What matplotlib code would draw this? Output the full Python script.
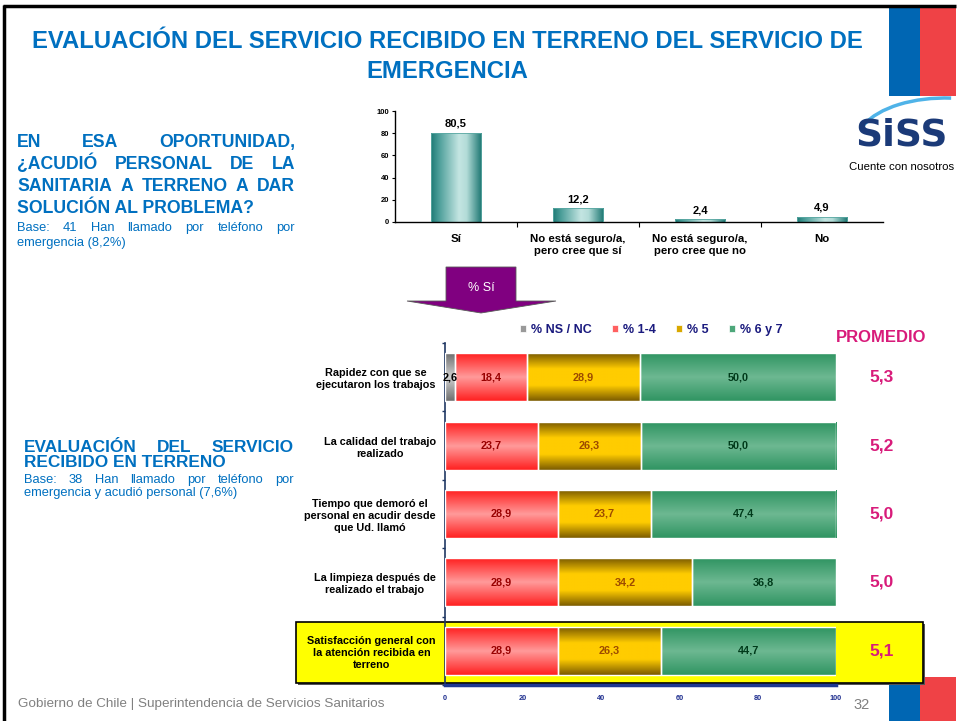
import matplotlib
matplotlib.use('Agg')
import matplotlib.pyplot as plt
import numpy as np
from matplotlib.patches import Rectangle, Polygon, Arc, Patch
from matplotlib.colors import LinearSegmentedColormap
import matplotlib.transforms as mtransforms

plt.rcParams['font.family'] = ['Liberation Sans', 'DejaVu Sans']

# ---------------- DATA ----------------
q_categories = ["Sí", "No está seguro/a,\npero cree que sí",
                "No está seguro/a,\npero cree que no", "No"]
q_values = [80.5, 12.2, 2.4, 4.9]
q_yticks = [0, 20, 40, 60, 80, 100]

eval_items = ["Rapidez con que se\nejecutaron los trabajos",
              "La calidad del trabajo\nrealizado",
              "Tiempo que demoró el\npersonal en acudir desde\nque Ud. llamó",
              "La limpieza después de\nrealizado el trabajo",
              "Satisfacción general con\nla atención recibida en\nterreno"]
series_names = ["% NS / NC", "% 1-4", "% 5", "% 6 y 7"]
ns_nc = [2.6, 0, 0, 0, 0]
p_1_4 = [18.4, 23.7, 28.9, 28.9, 28.9]
p_5 = [28.9, 26.3, 23.7, 34.2, 26.3]
p_6_7 = [50.0, 50.0, 47.4, 36.8, 44.7]
promedio = [5.3, 5.2, 5.0, 5.0, 5.1]
eval_xticks = [0, 20, 40, 60, 80, 100]

# ---------------- STYLE ----------------
W, H, DPI = 963, 721, 100
BLUE = '#0070C0'
NAVY = '#1A1A7E'
MAGENTA = '#D81B7A'

def fmt(v):
    return f"{v:.1f}".replace('.', ',')

fig = plt.figure(figsize=(W / DPI, H / DPI), dpi=DPI)
fig.patch.set_facecolor('white')

bg = fig.add_axes([0, 0, 1, 1])
bg.set_xlim(0, W)
bg.set_ylim(H, 0)
bg.axis('off')

def ax_px(l, t, r, b):
    a = fig.add_axes([l / W, 1 - b / H, (r - l) / W, (b - t) / H])
    a.set_facecolor('none')
    return a

def grad_fill(ax, patch, stops, horizontal, zorder=2):
    x0, y0 = patch.get_x(), patch.get_y()
    w, h = patch.get_width(), patch.get_height()
    cmap = LinearSegmentedColormap.from_list('g', stops)
    g = np.linspace(0, 1, 256)
    img = g[None, :] if horizontal else g[:, None]
    im = ax.imshow(img, cmap=cmap, extent=(x0, x0 + w, y0, y0 + h),
                   aspect='auto', origin='lower', zorder=zorder,
                   interpolation='bilinear')
    im.set_clip_path(patch)

renderer = fig.canvas.get_renderer()

def justify(text, x0, x1, y, justified=True, **kw):
    words = text.split()
    if not justified or len(words) == 1:
        bg.text(x0, y, text, ha='left', va='baseline', **kw)
        return
    ts = [bg.text(x0, y, w, ha='left', va='baseline', **kw) for w in words]
    widths = [t.get_window_extent(renderer).width for t in ts]
    gap = (x1 - x0 - sum(widths)) / (len(words) - 1)
    x = x0
    for t, wd in zip(ts, widths):
        t.set_x(x)
        x += wd + gap

# ---------------- DECORATION ----------------
bg.plot([3, 956], [6, 6], color='black', lw=2.5, solid_capstyle='butt')
bg.plot([4, 4], [5, 721], color='black', lw=2.5, solid_capstyle='butt')
bg.add_patch(Rectangle((889, 7), 31, 89, color='#0066B3', lw=0))
bg.add_patch(Rectangle((920, 7), 36, 89, color='#EF4246', lw=0))
bg.add_patch(Rectangle((889, 677), 31, 44, color='#0066B3', lw=0))
bg.add_patch(Rectangle((920, 677), 36, 44, color='#EF4246', lw=0))

# logo
bg.add_patch(Arc((945, 142), 176, 88, theta1=192, theta2=278,
                 color='#4FB3E8', lw=2.5))
bg.text(901, 145, "SiSS", ha='center', va='baseline', fontsize=27,
        fontweight='bold', color='#1B3A78', family='DejaVu Sans')
bg.text(902, 170, "Cuente con nosotros", ha='center', va='baseline',
        fontsize=8.2, color='black')

# title
bg.text(447, 48, "EVALUACIÓN DEL SERVICIO RECIBIDO EN TERRENO DEL SERVICIO DE",
        ha='center', va='baseline', fontsize=17.2, fontweight='bold', color=BLUE)
bg.text(447, 78, "EMERGENCIA", ha='center', va='baseline', fontsize=17.2,
        fontweight='bold', color=BLUE)

# left block 1
b1 = dict(fontsize=12.7, fontweight='bold', color=BLUE)
justify("EN ESA OPORTUNIDAD,", 17, 295, 147, **b1)
justify("¿ACUDIÓ PERSONAL DE LA", 17, 295, 169, **b1)
justify("SANITARIA A TERRENO A DAR", 17, 295, 191, **b1)
justify("SOLUCIÓN AL PROBLEMA?", 17, 295, 213, justified=False, **b1)
s1 = dict(fontsize=9.3, color=BLUE)
justify("Base: 41 Han llamado por teléfono por", 17, 295, 231, **s1)
justify("emergencia (8,2%)", 17, 295, 246, justified=False, **s1)

# left block 2
b2 = dict(fontsize=12.4, fontweight='bold', color=BLUE)
justify("EVALUACIÓN DEL SERVICIO", 24, 294, 452, **b2)
justify("RECIBIDO EN TERRENO", 24, 294, 467, justified=False, **b2)
s2 = dict(fontsize=9.3, color=BLUE)
justify("Base: 38 Han llamado por teléfono por", 24, 294, 483, **s2)
justify("emergencia y acudió personal (7,6%)", 24, 294, 496, justified=False, **s2)

# footer
bg.text(18, 707, "Gobierno de Chile | Superintendencia de Servicios Sanitarios",
        ha='left', va='baseline', fontsize=9.7, color='#808080')
bg.text(862, 709, "32", ha='center', va='baseline', fontsize=10.5, color='#808080')

# arrow
bg.add_patch(Polygon([(446, 267), (516, 267), (516, 301), (556, 301),
                      (481, 313), (407, 301), (446, 301)], closed=True,
                     facecolor='#800080', edgecolor='#5A5A5A', lw=0.6))
bg.text(481, 288, "% Sí", ha='center', va='center', fontsize=9, color='white')

# highlight box
bg.add_patch(Rectangle((298, 624), 627, 61, facecolor='#555555', lw=0))
bg.add_patch(Rectangle((296, 622), 627, 61, facecolor='#FFFF00',
                       edgecolor='black', lw=1.2))

# ---------------- TOP BAR CHART ----------------
ax1 = ax_px(395, 111, 883, 222)
xs = np.arange(len(q_values))
bars = ax1.bar(xs, q_values, width=0.41, facecolor='none',
               edgecolor='#5AA8A3', lw=0.6, zorder=3)
teal = [(0, '#1D7A75'), (0.15, '#4A9D98'), (0.55, '#C4E5E2'),
        (0.7, '#B3DCD8'), (1, '#1B7570')]
for b in bars:
    grad_fill(ax1, b, teal, horizontal=True, zorder=2)
for x, v in zip(xs, q_values):
    ax1.annotate(fmt(v), (x, v), xytext=(0, 3), textcoords='offset points',
                 ha='center', va='bottom', fontsize=8, fontweight='bold')
ax1.set_xlim(-0.5, len(q_values) - 0.5)
ax1.set_ylim(0, 100)
ax1.set_yticks(q_yticks)
ax1.set_yticklabels([str(t) for t in q_yticks], fontsize=5.5, fontweight='bold')
ax1.set_xticks(xs)
ax1.set_xticklabels(q_categories, fontsize=8.2, fontweight='bold')
ax1.set_xticks(xs[:-1] + 0.5, minor=True)
ax1.tick_params(axis='x', which='major', length=0, pad=8.5)
ax1.tick_params(axis='x', which='minor', length=3.5, width=0.8, direction='out')
ax1.tick_params(axis='y', length=2.5, width=0.8, pad=1.5)
for s in ['top', 'right']:
    ax1.spines[s].set_visible(False)
for s in ['left', 'bottom']:
    ax1.spines[s].set_linewidth(1.0)
for t in ax1.get_xticklabels():
    t.set_multialignment('center')
    t.set_linespacing(1.25)

# ---------------- STACKED BAR CHART ----------------
ax2 = ax_px(445, 343, 836, 685)
ys = np.arange(len(eval_items))
series = [ns_nc, p_1_4, p_5, p_6_7]
grads = [
    [(0, '#6E6E6E'), (0.5, '#D0D0D0'), (1, '#6E6E6E')],
    [(0, '#FF1F1F'), (0.5, '#FF9A9A'), (1, '#FF1F1F')],
    [(0, '#7A5A00'), (0.33, '#FFCC00'), (0.67, '#FFCC00'), (1, '#7A5A00')],
    [(0, '#2F9462'), (0.5, '#6DB892'), (1, '#2F9462')],
]
txt_colors = ['black', '#990000', '#9C4A00', '#003A1A']
legend_colors = ['#999999', '#FF6060', '#D9A800', '#4DA77A']
left = np.zeros(len(eval_items))
for vals, gstops, tc in zip(series, grads, txt_colors):
    vals = np.array(vals, dtype=float)
    for y, v, l in zip(ys, vals, left):
        if v <= 0:
            continue
        b = ax2.barh(y, v, left=l, height=0.70, facecolor='none',
                     edgecolor='white', lw=1.0, zorder=3)[0]
        grad_fill(ax2, b, gstops, horizontal=False, zorder=2)
        ax2.text(l + v / 2, y, fmt(v), ha='center', va='center',
                 fontsize=7.8, fontweight='bold', color=tc, zorder=4)
    left = left + vals
ax2.set_xlim(0, 100)
ax2.set_ylim(len(eval_items) - 0.5, -0.5)
ax2.set_yticks(ys)
ax2.set_yticklabels(eval_items, fontsize=7.8, fontweight='bold')
ax2.set_yticks(np.arange(-0.5, len(eval_items), 1.0), minor=True)
ax2.tick_params(axis='y', which='major', length=0, pad=6.5)
ax2.tick_params(axis='y', which='minor', length=2.5, width=1.0,
                color='#203864', direction='out')
for t in ax2.get_yticklabels():
    t.set_multialignment('center')
    t.set_linespacing(1.25)
ax2.set_xticks(eval_xticks)
ax2.set_xticklabels([str(t) for t in eval_xticks], fontsize=5.3,
                    fontweight='bold', color='#1F2F8F')
ax2.tick_params(axis='x', length=0, pad=7)
for s in ['top', 'right']:
    ax2.spines[s].set_visible(False)
ax2.spines['left'].set_color('#203864')
ax2.spines['left'].set_linewidth(1.2)
ax2.spines['bottom'].set_color('#1F3A93')
ax2.spines['bottom'].set_linewidth(2.5)
ax2.spines['bottom'].set_linestyle((0, (1, 1)))

# promedio column
trans = mtransforms.blended_transform_factory(ax2.transAxes, ax2.transData)
for y, p in zip(ys, promedio):
    ax2.text(1.1176, y, fmt(p), transform=trans, ha='center', va='center',
             fontsize=12.5, fontweight='bold', color=MAGENTA, clip_on=False)
bg.text(881, 338, "PROMEDIO", ha='center', va='center', fontsize=12,
        fontweight='bold', color=MAGENTA)

# legend
handles = [Patch(facecolor=c, edgecolor='white', lw=0.5) for c in legend_colors]
leg = fig.legend(handles, series_names, loc='center', ncol=4,
                 bbox_to_anchor=(651 / W, 1 - 330 / H),
                 bbox_transform=fig.transFigure, frameon=False,
                 handlelength=0.5, handleheight=0.5, handletextpad=0.4,
                 columnspacing=1.6, borderpad=0,
                 prop={'size': 9, 'weight': 'bold'})
for t in leg.get_texts():
    t.set_color(NAVY)

fig.savefig('out.png', dpi=DPI)
